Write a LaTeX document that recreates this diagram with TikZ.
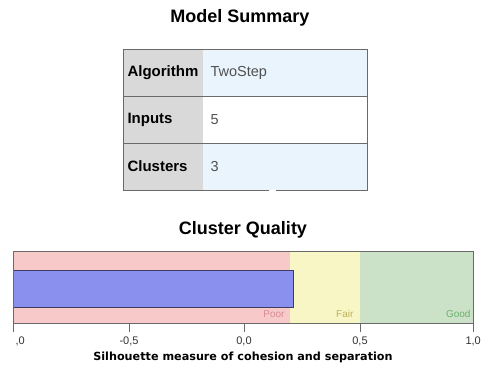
\documentclass[tikz,border=0pt]{standalone}
\usepackage{fontspec}
\setmainfont{Liberation Sans}
\newfontfamily\widebold{DejaVu Sans}
\usetikzlibrary{positioning}
\definecolor{rowblue}{HTML}{EAF4FD}
\definecolor{labgray}{HTML}{D9D9D9}
\definecolor{framegray}{HTML}{6A6A6A}
\definecolor{poorred}{HTML}{F7C9C9}
\definecolor{fairyellow}{HTML}{F9F6C6}
\definecolor{goodgreen}{HTML}{CBE2C8}
\definecolor{barblue}{HTML}{8A90EE}
\definecolor{barline}{HTML}{3C3C66}
\definecolor{poortext}{HTML}{D98A98}
\definecolor{fairtext}{HTML}{BDB25A}
\definecolor{goodtext}{HTML}{6CB06C}
\definecolor{valtext}{HTML}{505050}

\begin{document}
\begin{tikzpicture}[x=1pt,y=-1pt,
  title/.style={font=\bfseries\fontsize{18}{21}\selectfont},
  lab/.style={anchor=west,font=\bfseries\fontsize{15}{18}\selectfont},
  val/.style={anchor=west,text=valtext,font=\fontsize{14.5}{17}\selectfont},
  tick/.style={font=\fontsize{11}{13}\selectfont,text=black!80},
  zone/.style={anchor=east,font=\fontsize{10}{12}\selectfont}]

\useasboundingbox (0,0) rectangle (482,368);

% model summary
\node[title] (sumtitle) at (240,18) {Model Summary};

\fill[rowblue] (203,49) rectangle (367,96);
\fill[white] (203,96) rectangle (367,143);
\fill[rowblue] (203,143) rectangle (367,190);
\fill[labgray] (123,49) rectangle (203,190);
\draw[framegray,thick] (123,96) -- (367,96);
\draw[framegray,thick] (123,143) -- (367,143);
\draw[framegray,thick] (269,190) -- (123,190) -- (123,49) -- (367,49) -- (367,190) -- (276,190);

\node[lab] (alglab) at (124,72.5) {Algorithm};
\node[lab] (inlab) at (124,119.5) {Inputs};
\node[lab] (cllab) at (124,166.5) {Clusters};
\node[val] (algval) at (207,72.5) {TwoStep};
\node[val] (inval) at (207,119.5) {5};
\node[val] (clval) at (207,166.5) {3};

% cluster quality
\node[title] (qualtitle) at (243,230) {Cluster Quality};

\fill[poorred] (13,251) rectangle (290,323);
\fill[fairyellow] (290,251) rectangle (360,323);
\fill[goodgreen] (360,251) rectangle (473,323);
\draw[barline,thick,fill=barblue] (13,270) rectangle (293,307);
\draw[framegray,thick] (13,251) rectangle (473,323);

\node[zone,text=poortext] (poor) at (288,314) {Poor};
\node[zone,text=fairtext] (fair) at (357,314) {Fair};
\node[zone,text=goodtext] (good) at (474,314) {Good};

\foreach \x in {13,129,244,360,473}
  \draw[framegray,thick] (\x,323) -- (\x,332);
\node[tick,anchor=west] (t1) at (12,341) {,0};
\node[tick] (t2) at (129,341) {-0,5};
\node[tick] (t3) at (244,341) {0,0};
\node[tick] (t4) at (360,341) {0,5};
\node[tick,anchor=east,inner xsep=1pt] (t5) at (482,341) {1,0};

\node[font=\widebold\bfseries\fontsize{11.2}{13}\selectfont] (axlab) at (243,357) {Silhouette measure of cohesion and separation};
\end{tikzpicture}
\end{document}
